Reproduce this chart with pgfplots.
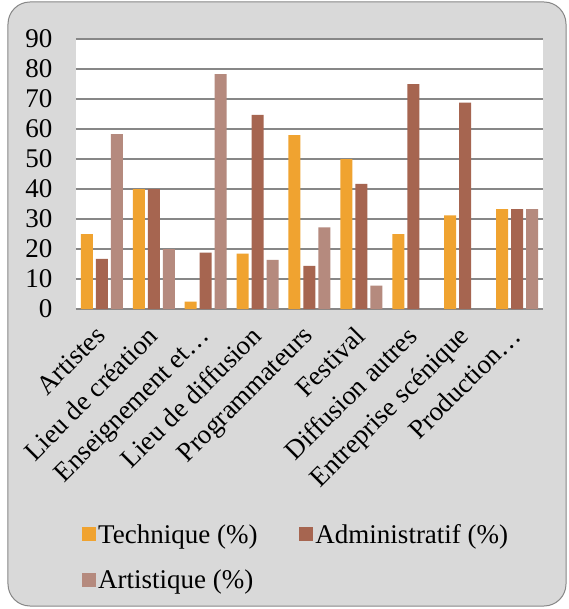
\documentclass[border=0pt]{standalone}
\usepackage{pgfplots}
\pgfplotsset{compat=1.18}
\usepackage{fontspec}
\setmainfont{Liberation Serif}
\definecolor{technique}{HTML}{F0A330}
\definecolor{admin}{HTML}{A66550}
\definecolor{artist}{HTML}{B58A7E}
\definecolor{framegray}{HTML}{D9D9D9}
\definecolor{gridgray}{HTML}{878787}
\begin{document}
\begin{tikzpicture}
  \useasboundingbox (-76pt,309pt) rectangle (492pt,-300pt);
  \draw[gridgray, fill=framegray, rounded corners=22pt, line width=1pt]
    (-68pt,307pt) rectangle (490pt,-297pt);
  \begin{axis}[
      at={(0pt,0pt)}, anchor=south west,
      width=467pt, height=270pt, scale only axis,
      ybar=3pt, bar width=12pt,
      xmin=-0.5, xmax=8.5, ymin=0, ymax=90,
      ytick={0,10,...,90},
      xtick={0,...,8},
      xticklabels={Artistes, Lieu de création, Enseignement et…, Lieu de diffusion,
        Programmateurs, Festival, Diffusion autres, Entreprise scénique, Production…},
      font=\fontsize{27pt}{31pt}\selectfont,
      /pgf/number format/assume math mode=true,
      x tick label style={xshift=-8pt, yshift=-14pt, rotate=45, anchor=north east, inner sep=1pt},
      yticklabel style={xshift=-20pt},
      major tick length=0pt,
      axis lines=left,
      x axis line style={gridgray, line width=1.3pt, -},
      y axis line style={draw=none},
      ymajorgrids,
      major grid style={gridgray, line width=1.3pt},
      axis background/.style={fill=white},
      legend columns=2,
      legend cell align=left,
      legend style={at={(0,0)}, anchor=north west, xshift=3pt, yshift=-211pt,
        draw=none, fill=none, row sep=21pt,
        font=\fontsize{27pt}{31pt}\selectfont,
        /tikz/every even column/.append style={column sep=40pt}},
      legend image code/.code={\fill[#1] (0pt,-7pt) rectangle (14pt,7pt);},
    ]
    \addplot[fill=technique, draw=none] coordinates
      {(0,25) (1,40) (2,2.5) (3,18.5) (4,58) (5,50) (6,25) (7,31.2) (8,33.3)};
    \addplot[fill=admin, draw=none] coordinates
      {(0,16.7) (1,40) (2,18.8) (3,64.7) (4,14.4) (5,41.7) (6,75) (7,68.8) (8,33.3)};
    \addplot[fill=artist, draw=none] coordinates
      {(0,58.3) (1,20) (2,78.3) (3,16.4) (4,27.2) (5,7.8) (6,0) (7,0) (8,33.3)};
    \legend{Technique (\%), Administratif (\%), Artistique (\%)}
  \end{axis}
\end{tikzpicture}
\end{document}
